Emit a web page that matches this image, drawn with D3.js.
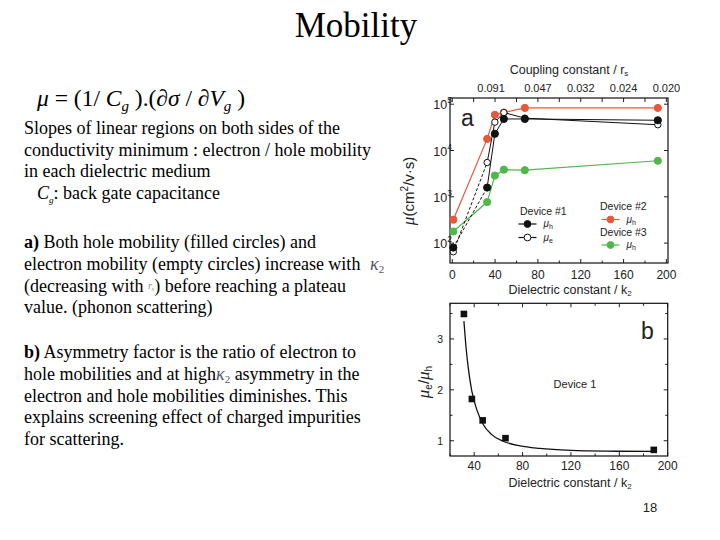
<!DOCTYPE html>
<html><head><meta charset="utf-8">
<script src="https://cdn.jsdelivr.net/npm/d3@7/dist/d3.min.js"></script>
<style>body{margin:0;background:#fff}svg{display:block}</style></head>
<body><svg id="c" width="720" height="540"></svg>
<script>
// ---------- data ----------
const kappa    = [1, 32.6, 39.8, 48.2, 67.8, 192];
const dev1Hole = [80, 1580, 23000, 48000, 48000, 45000];
const dev1Elec = [65, 5500, 41000, 66000, 50000, 36000];
const dev2Hole = [320, 17800, 59000, 66000, 83000, 83000];
const dev3Hole = [178, 770, 2870, 3850, 3750, 6000];
const bottomTicksA = [0, 40, 80, 120, 160, 200];
const yTicksA = [2, 3, 4, 5];
const rsTickPos = [40, 80, 120, 160, 200];
const rsLabels = ["0.091", "0.047", "0.032", "0.024", "0.020"];

const kappaB = [31.5, 38.1, 47, 65.9, 188.5];
const ratioB = [3.49, 1.82, 1.40, 1.05, 0.82];
const fitK     = [31.5, 33, 35, 38, 42, 47.5, 54, 64, 78, 94, 120, 150, 188];
const fitRatio = [3.35, 2.9, 2.45, 1.98, 1.62, 1.32, 1.13, 0.99, 0.9, 0.85, 0.81, 0.795, 0.79];
const bottomTicksB = [40, 80, 120, 160, 200];
const yTicksB = [1, 2, 3];

const ORANGE = "#e5593a", GREEN = "#4fb84a", BLACK = "#111";
const SERIF = "'Liberation Serif','Times New Roman',serif";
const SANS = "'Liberation Sans',Arial,sans-serif";

const svg = d3.select("#c");

// ---------- left text ----------
svg.append("text").attr("x", 356).attr("y", 37).attr("text-anchor", "middle")
  .style("font-family", SERIF).style("font-size", "35px").text("Mobility");

const f = svg.append("text").attr("x", 37).attr("y", 106)
  .style("font-family", SERIF).style("font-size", "23.5px");
f.append("tspan").style("font-style", "italic").text("μ");
f.append("tspan").text(" = (1/ ");
f.append("tspan").style("font-style", "italic").text("C");
f.append("tspan").style("font-style", "italic").style("font-size", "15px").attr("dy", 5).text("g");
f.append("tspan").attr("dy", -5).text(" ).(∂");
f.append("tspan").style("font-style", "italic").text("σ");
f.append("tspan").text(" / ∂");
f.append("tspan").style("font-style", "italic").text("V");
f.append("tspan").style("font-style", "italic").style("font-size", "15px").attr("dy", 5).text("g");
f.append("tspan").attr("dy", -5).text(" )");

function line(x, y, parts) {
  const t = svg.append("text").attr("x", x).attr("y", y)
    .style("font-family", SERIF).style("font-size", "18px").attr("fill", "#000");
  parts.forEach(p => {
    if (typeof p === "string") { t.append("tspan").text(p); return; }
    const s = t.append("tspan").text(p.t);
    if (p.b) s.style("font-weight", "bold");
    if (p.i) s.style("font-style", "italic");
    if (p.fs) s.style("font-size", p.fs);
    if (p.c) s.attr("fill", p.c);
    if (p.dy) s.attr("dy", p.dy);
  });
  return t;
}
const KC = "#556";
line(24, 134, ["Slopes of linear regions on both sides of the"]);
line(24, 155.5, ["conductivity minimum : electron / hole mobility"]);
line(24, 177, ["in each dielectric medium"]);
line(37, 198.5, [{t: "C", i: true}, {t: "g", i: true, fs: "9px", dy: 4}, {t: ": back gate capacitance", dy: -4}]);

line(24, 248, [{t: "a)", b: true}, " Both hole mobility (filled circles) and"]);
line(24, 270, ["electron mobility (empty circles) increase with "]);
line(370, 270, [{t: "κ", c: KC, i: true}, {t: "2", c: KC, fs: "11px", dy: 3}]);
line(24, 291.5, ["(decreasing with ", {t: "r", i: true, c: "#888", fs: "10px", dy: -3}, {t: "s", i: true, c: "#888", fs: "6px", dy: 2}, {t: ") before reaching a plateau", dy: 1}]);
line(24, 313, ["value. (phonon scattering)"]);

line(24, 358, [{t: "b)", b: true}, " Asymmetry factor is the ratio of electron to"]);
line(24, 380, ["hole mobilities and at high", {t: "κ", c: KC, i: true}, {t: "2", c: KC, fs: "11px", dy: 3}, {t: " asymmetry in the", dy: -3}]);
line(24, 401.5, ["electron and hole mobilities diminishes. This"]);
line(24, 423, ["explains screening effect of charged impurities"]);
line(24, 444.5, ["for scattering."]);

svg.append("text").attr("x", 650).attr("y", 512).attr("text-anchor", "middle")
  .style("font-family", SANS).style("font-size", "13px").attr("fill", "#222").text("18");

// ---------- chart a ----------
const A = {l: 450, r: 668, t: 98, b: 263};
const xa = d3.scaleLinear().domain([-2.1, 201.5]).range([A.l, A.r]);
const ya = d3.scaleLog().domain([Math.pow(10, 1.57), Math.pow(10, 5.134)]).range([A.b, A.t]);
const ga = svg.append("g");

const minorA = d3.range(0, 201, 20);
minorA.forEach(v => {
  const big = v % 40 === 0;
  const L = big ? 4 : 2.5;
  ga.append("line").attr("x1", xa(v)).attr("x2", xa(v)).attr("y1", A.b).attr("y2", A.b - L).attr("stroke", "#222");
  ga.append("line").attr("x1", xa(v)).attr("x2", xa(v)).attr("y1", A.t).attr("y2", A.t + 4).attr("stroke", "#222");
});
yTicksA.forEach(e => {
  const y = ya(Math.pow(10, e));
  ga.append("line").attr("x1", A.l).attr("x2", A.l + 4).attr("y1", y).attr("y2", y).attr("stroke", "#222");
  ga.append("line").attr("x1", A.r).attr("x2", A.r - 4).attr("y1", y).attr("y2", y).attr("stroke", "#222");
  const t = ga.append("text").attr("x", 452).attr("y", y + 5).attr("text-anchor", "end")
    .style("font-family", SANS).style("font-size", "12.5px").attr("fill", "#222");
  t.append("tspan").text("10");
  t.append("tspan").attr("dy", -6).style("font-size", "8.5px").text(e);
});
ga.append("rect").attr("x", A.l).attr("y", A.t).attr("width", A.r - A.l).attr("height", A.b - A.t)
  .attr("fill", "none").attr("stroke", "#111").attr("stroke-width", 1.2);

bottomTicksA.forEach(v => {
  ga.append("text").attr("x", xa(v)).attr("y", 279).attr("text-anchor", "middle")
    .style("font-family", SANS).style("font-size", "12px").attr("fill", "#222").text(v);
});
rsTickPos.forEach((v, i) => {
  ga.append("text").attr("x", xa(v) - (i === 0 ? 4 : 0)).attr("y", 92).attr("text-anchor", "middle")
    .style("font-family", SANS).style("font-size", "11px").attr("fill", "#222").text(rsLabels[i]);
});
{
  const t = ga.append("text").attr("x", 569).attr("y", 74).attr("text-anchor", "middle")
    .style("font-family", SANS).style("font-size", "12.5px").attr("fill", "#222");
  t.append("tspan").text("Coupling constant / r");
  t.append("tspan").attr("dy", 2).style("font-size", "8px").text("s");
}
{
  const t = ga.append("text").attr("x", 570).attr("y", 294).attr("text-anchor", "middle")
    .style("font-family", SANS).style("font-size", "12.5px").attr("fill", "#222");
  t.append("tspan").text("Dielectric constant / k");
  t.append("tspan").attr("dy", 2).style("font-size", "8px").text("2");
}
{
  const t = ga.append("text").attr("transform", "translate(414,191) rotate(-90)").attr("text-anchor", "middle")
    .style("font-family", SANS).style("font-size", "15px").attr("fill", "#222");
  t.append("tspan").style("font-style", "italic").style("font-family", SERIF).style("font-size", "17px").text("μ");
  t.append("tspan").text("(cm");
  t.append("tspan").attr("dy", -6).style("font-size", "10px").text("2");
  t.append("tspan").attr("dy", 6).text("/v·s)");
}
ga.append("text").attr("x", 461).attr("y", 126).style("font-family", SANS).style("font-size", "23px")
  .attr("fill", "#222").text("a");

const lineGen = d3.line().x(d => xa(d[0])).y(d => ya(d[1]));
function series(vals, color, fill, dashFirst, r) {
  const pts = kappa.map((k, i) => [k, vals[i]]);
  if (dashFirst) {
    ga.append("path").attr("d", lineGen(pts.slice(0, 2))).attr("fill", "none").attr("stroke", color)
      .attr("stroke-width", 1).attr("stroke-dasharray", "3,2");
    ga.append("path").attr("d", lineGen(pts.slice(1))).attr("fill", "none").attr("stroke", color).attr("stroke-width", 1);
  } else {
    ga.append("path").attr("d", lineGen(pts)).attr("fill", "none").attr("stroke", color).attr("stroke-width", 1.2);
  }
  ga.selectAll(null).data(pts).enter().append("circle")
    .attr("cx", d => xa(d[0])).attr("cy", d => ya(d[1])).attr("r", r)
    .attr("fill", fill).attr("stroke", color).attr("stroke-width", 1);
}
series(dev3Hole, GREEN, GREEN, false, 3.6);
series(dev2Hole, ORANGE, ORANGE, false, 3.6);
series(dev1Elec, BLACK, "#fff", true, 3.2);
series(dev1Hole, BLACK, BLACK, true, 3.6);

function legEntry(x, y, color, fill, label) {
  ga.append("line").attr("x1", x - 9).attr("x2", x + 9).attr("y1", y).attr("y2", y).attr("stroke", color).attr("stroke-width", 1.2);
  ga.append("circle").attr("cx", x).attr("cy", y).attr("r", 3.4).attr("fill", fill).attr("stroke", color);
  const t = ga.append("text").attr("x", x + 16).attr("y", y + 3).style("font-family", SANS).style("font-size", "10px").attr("fill", "#222");
  t.append("tspan").style("font-style", "italic").text("μ");
  t.append("tspan").attr("dy", 2).style("font-size", "7px").text(label);
}
const legTxt = (x, y, s) => ga.append("text").attr("x", x).attr("y", y).style("font-family", SANS)
  .style("font-size", "10.5px").attr("fill", "#222").text(s);
legTxt(520, 215, "Device #1");
legEntry(527.5, 224, BLACK, BLACK, "h");
legEntry(527.5, 237.5, BLACK, "#fff", "e");
legTxt(600, 210, "Device #2");
legEntry(610.5, 219.5, ORANGE, ORANGE, "h");
legTxt(600, 236, "Device #3");
legEntry(610.5, 245, GREEN, GREEN, "h");

// ---------- chart b ----------
const B = {l: 450, r: 667.7, t: 303.3, b: 456};
const xb = d3.scaleLinear().domain([20, 200]).range([B.l, B.r]);
const yb = d3.scaleLinear().domain([0.7, 3.7]).range([B.b, B.t]);
const gb = svg.append("g");
d3.range(20, 201, 20).forEach(v => {
  const L = v % 40 === 0 ? 4 : 2.5;
  gb.append("line").attr("x1", xb(v)).attr("x2", xb(v)).attr("y1", B.b).attr("y2", B.b - L).attr("stroke", "#222");
  gb.append("line").attr("x1", xb(v)).attr("x2", xb(v)).attr("y1", B.t).attr("y2", B.t + L).attr("stroke", "#222");
});
d3.range(1, 3.6, 0.5).forEach(v => {
  const L = Number.isInteger(v) ? 4 : 2.5;
  gb.append("line").attr("x1", B.l).attr("x2", B.l + L).attr("y1", yb(v)).attr("y2", yb(v)).attr("stroke", "#222");
  gb.append("line").attr("x1", B.r).attr("x2", B.r - L).attr("y1", yb(v)).attr("y2", yb(v)).attr("stroke", "#222");
});
yTicksB.forEach(v => {
  gb.append("text").attr("x", 443).attr("y", yb(v) + 4).attr("text-anchor", "end")
    .style("font-family", SANS).style("font-size", "10.5px").attr("fill", "#222").text(v);
});
bottomTicksB.forEach(v => {
  gb.append("text").attr("x", xb(v)).attr("y", 470).attr("text-anchor", "middle")
    .style("font-family", SANS).style("font-size", "12px").attr("fill", "#222").text(v);
});
gb.append("rect").attr("x", B.l).attr("y", B.t).attr("width", B.r - B.l).attr("height", B.b - B.t)
  .attr("fill", "none").attr("stroke", "#111").attr("stroke-width", 1.2);
{
  const t = gb.append("text").attr("x", 570).attr("y", 487).attr("text-anchor", "middle")
    .style("font-family", SANS).style("font-size", "12.5px").attr("fill", "#222");
  t.append("tspan").text("Dielectric constant / k");
  t.append("tspan").attr("dy", 2).style("font-size", "8px").text("2");
}
{
  const t = gb.append("text").attr("transform", "translate(429,382) rotate(-90)").attr("text-anchor", "middle")
    .style("font-family", SANS).style("font-size", "15px").attr("fill", "#222");
  t.append("tspan").style("font-style", "italic").style("font-family", SERIF).style("font-size", "17px").text("μ");
  t.append("tspan").attr("dy", 3).style("font-size", "10px").text("e");
  t.append("tspan").attr("dy", -3).text("/");
  t.append("tspan").style("font-style", "italic").style("font-family", SERIF).style("font-size", "17px").text("μ");
  t.append("tspan").attr("dy", 3).style("font-size", "10px").text("h");
}
gb.append("text").attr("x", 641).attr("y", 339).style("font-family", SANS).style("font-size", "23px")
  .attr("fill", "#222").text("b");
gb.append("text").attr("x", 575).attr("y", 388).attr("text-anchor", "middle").style("font-family", SANS)
  .style("font-size", "11px").attr("fill", "#222").text("Device 1");

const fitLine = d3.line().x(d => xb(d[0])).y(d => yb(d[1])).curve(d3.curveMonotoneX);
gb.append("path").attr("d", fitLine(fitK.map((k, i) => [k, fitRatio[i]])))
  .attr("fill", "none").attr("stroke", "#111").attr("stroke-width", 1.3);
gb.selectAll(null).data(kappaB.map((k, i) => [k, ratioB[i]])).enter().append("rect")
  .attr("x", d => xb(d[0]) - 3.3).attr("y", d => yb(d[1]) - 3.3).attr("width", 6.6).attr("height", 6.6)
  .attr("fill", "#111");
</script></body></html>
